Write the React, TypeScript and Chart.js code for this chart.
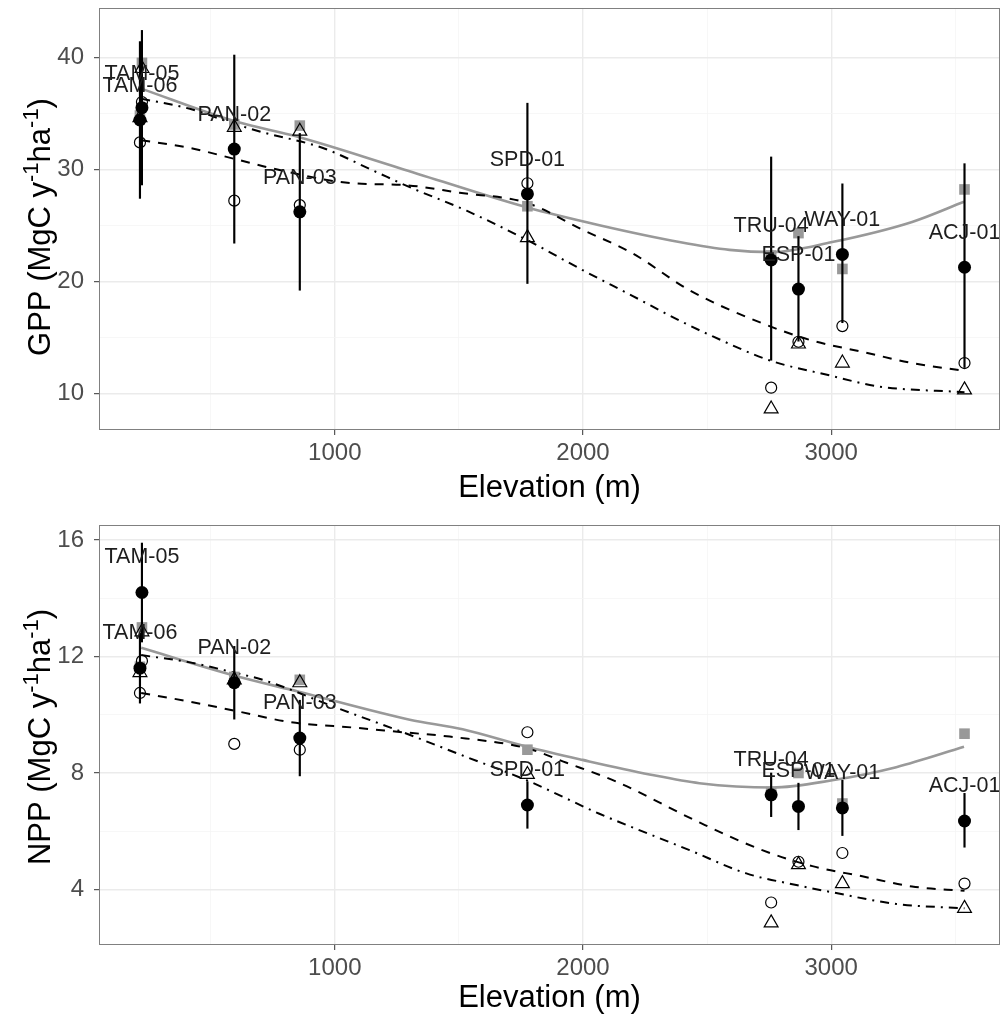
import React, { useEffect, useRef } from "react";
import { Chart, registerables } from "chart.js";

Chart.register(...registerables);

const FONT = "'Liberation Sans', Arial, Helvetica, sans-serif";

// ---------------- data ----------------
const sites = ["TAM-05", "TAM-06", "PAN-02", "PAN-03", "SPD-01", "TRU-04", "ESP-01", "WAY-01", "ACJ-01"];
const elevation = [223, 215, 595, 859, 1776, 2758, 2868, 3045, 3537];

// grid positions (major ones carry labels)
const elevationGrid = [500, 1000, 1500, 2000, 2500, 3000, 3500];
const elevationTickLabels = [1000, 2000, 3000];
const gppGrid = [10, 15, 20, 25, 30, 35, 40];
const gppTickLabels = [10, 20, 30, 40];
const nppGrid = [4, 6, 8, 10, 12, 14, 16];
const nppTickLabels = [4, 8, 12, 16];

// GPP panel
const gppObserved = [35.5, 34.4, 31.8, 26.2, 27.8, 21.9, 19.3, 22.4, 21.25];
const gppLower = [28.6, 27.4, 23.4, 19.2, 19.8, 12.95, 14.65, 16.3, 12.3];
const gppUpper = [42.4, 41.4, 40.2, 33.2, 35.9, 31.1, 24.0, 28.7, 30.5];
const gppSquare = [39.5, 34.8, 34.0, 33.9, 26.7, 22.3, 24.3, 21.1, 28.2];
const gppCircle = [36.0, 32.4, 27.2, 26.8, 28.75, 10.5, 14.6, 16.0, 12.7];
const gppTriangle = [39.0, 34.6, 33.75, 33.4, 23.9, 8.6, 14.4, 12.7, 10.3];

const gppSquareFitElev = [220, 594, 851, 1262, 1773, 2066, 2388, 2590, 2763, 3004, 3326, 3535];
const gppSquareFitVal = [37.2, 34.3, 32.9, 30.1, 26.6, 25.0, 23.5, 22.8, 22.6, 23.5, 25.3, 27.1];
const gppCircleFitElev = [220, 416, 618, 726, 1072, 1274, 1503, 1773, 1998, 2199, 2429, 2722, 2924, 3125, 3326, 3537];
const gppCircleFitVal = [32.6, 31.9, 30.8, 30.2, 28.75, 28.6, 27.9, 27.0, 24.6, 22.5, 19.2, 16.25, 14.7, 13.7, 12.7, 12.0];
const gppTriangleFitElev = [220, 416, 590, 710, 952, 1153, 1302, 1531, 1773, 1998, 2199, 2388, 2521, 2750, 2992, 3193, 3537];
const gppTriangleFitVal = [36.3, 35.4, 34.1, 33.3, 31.9, 29.9, 28.4, 26.3, 23.7, 21.0, 18.7, 16.5, 15.1, 12.95, 11.6, 10.6, 10.1];

// NPP panel
const nppObserved = [14.2, 11.6, 11.1, 9.2, 6.9, 7.25, 6.85, 6.8, 6.35];
const nppLower = [12.5, 10.4, 9.85, 7.9, 6.1, 6.5, 6.05, 5.85, 5.45];
const nppUpper = [15.9, 12.8, 12.35, 10.5, 7.7, 8.0, 7.65, 7.75, 7.3];
const nppSquare = [13.0, 11.65, 11.3, 11.2, 8.8, 7.35, 8.0, 6.95, 9.35];
const nppCircle = [11.85, 10.75, 9.0, 8.8, 9.4, 3.55, 4.95, 5.25, 4.2];
const nppTriangle = [12.85, 11.45, 11.2, 11.1, 7.95, 2.85, 4.85, 4.2, 3.35];

const nppSquareFitElev = [220, 594, 851, 1302, 1515, 1773, 1998, 2268, 2469, 2763, 3004, 3262, 3535];
const nppSquareFitVal = [12.3, 11.35, 10.8, 9.83, 9.5, 8.9, 8.45, 7.95, 7.65, 7.5, 7.75, 8.2, 8.9];
const nppCircleFitElev = [220, 416, 618, 819, 1089, 1274, 1463, 1773, 1934, 2135, 2469, 2722, 2924, 3125, 3326, 3537];
const nppCircleFitVal = [10.75, 10.45, 10.1, 9.75, 9.55, 9.4, 9.25, 8.85, 8.35, 7.7, 6.3, 5.35, 4.8, 4.45, 4.1, 3.95];
const nppTriangleFitElev = [220, 416, 594, 710, 1020, 1274, 1515, 1773, 2066, 2429, 2658, 2859, 3004, 3262, 3537];
const nppTriangleFitVal = [12.05, 11.8, 11.45, 11.2, 10.2, 9.4, 8.6, 7.75, 6.6, 5.35, 4.55, 4.15, 3.9, 3.5, 3.35];

// ---------------- chart construction ----------------
type PanelSpec = {
  yName: string;
  observed: number[];
  lower: number[];
  upper: number[];
  square: number[];
  circle: number[];
  triangle: number[];
  squareFit: [number[], number[]];
  circleFit: [number[], number[]];
  triangleFit: [number[], number[]];
  yMin: number;
  yMax: number;
  yGrid: number[];
  yLabels: number[];
  padTop: number;
  xAxisHeight: number;
  labelLift: number;
  canvasHeight: number;
};

const pts = (xs: number[], ys: number[]) => xs.map((x, i) => ({ x, y: ys[i] }));

const near = (v: number, list: number[]) => list.some((t) => Math.abs(t - v) < 1e-6);

function buildConfig(p: PanelSpec): any {
  const fitLine = (fit: [number[], number[]], extra: any) => ({
    type: "line",
    data: pts(fit[0], fit[1]),
    borderColor: "#000000",
    borderWidth: 2,
    pointRadius: 0,
    fill: false,
    cubicInterpolationMode: "monotone",
    ...extra,
  });

  const datasets: any[] = [
    fitLine(p.squareFit, { borderColor: "#999999", borderWidth: 2.6, order: 10 }),
    fitLine(p.circleFit, { borderDash: [9, 8], order: 9 }),
    fitLine(p.triangleFit, { borderDash: [9, 6, 2, 6], order: 8 }),
    {
      type: "scatter",
      data: pts(elevation, p.square),
      pointStyle: "rect",
      pointRadius: 7.5,
      backgroundColor: "#999999",
      borderWidth: 0,
      order: 7,
    },
    {
      type: "scatter",
      data: pts(elevation, p.circle),
      pointStyle: "circle",
      pointRadius: 5.5,
      backgroundColor: "rgba(0,0,0,0)",
      borderColor: "#000000",
      borderWidth: 1.2,
      order: 6,
    },
    {
      type: "scatter",
      data: pts(elevation, p.triangle),
      pointStyle: "triangle",
      pointRadius: 8,
      backgroundColor: "rgba(0,0,0,0)",
      borderColor: "#000000",
      borderWidth: 1.2,
      order: 5,
    },
    {
      type: "bar",
      data: elevation.map((e, i) => ({ x: e, y: [p.lower[i], p.upper[i]] })),
      backgroundColor: "#000000",
      borderWidth: 0,
      barThickness: 1.5,
      order: 4,
    },
    {
      type: "scatter",
      data: pts(elevation, p.observed),
      pointStyle: "circle",
      pointRadius: 6.5,
      backgroundColor: "#000000",
      borderWidth: 0,
      order: 3,
    },
  ];

  const decor = {
    id: "decor",
    afterDatasetsDraw(chart: any) {
      const { ctx, chartArea, scales } = chart;
      const xs = scales.x;
      const ys = scales.y;
      ctx.save();
      // site labels
      ctx.font = `21.5px ${FONT}`;
      ctx.fillStyle = "#1e1e1e";
      ctx.textAlign = "center";
      ctx.textBaseline = "middle";
      sites.forEach((s, i) => {
        ctx.fillText(s, xs.getPixelForValue(elevation[i]), ys.getPixelForValue(p.observed[i]) - p.labelLift);
      });
      // panel border
      ctx.strokeStyle = "#808080";
      ctx.lineWidth = 1;
      ctx.strokeRect(chartArea.left + 0.5, chartArea.top + 0.5, chartArea.right - chartArea.left - 1, chartArea.bottom - chartArea.top - 1);
      // x title
      ctx.fillStyle = "#000000";
      ctx.font = `31px ${FONT}`;
      ctx.textAlign = "center";
      ctx.textBaseline = "alphabetic";
      ctx.fillText("Elevation (m)", (chartArea.left + chartArea.right) / 2, 497);
      // y title with superscripts
      const parts: { t: string; sup: boolean }[] = [
        { t: `${p.yName} (MgC y`, sup: false },
        { t: "-1", sup: true },
        { t: "ha", sup: false },
        { t: "-1", sup: true },
        { t: ")", sup: false },
      ];
      const mainFont = `31px ${FONT}`;
      const supFont = `22px ${FONT}`;
      let total = 0;
      const widths = parts.map((pt) => {
        ctx.font = pt.sup ? supFont : mainFont;
        const w = ctx.measureText(pt.t).width;
        total += w;
        return w;
      });
      ctx.translate(38, 227);
      ctx.rotate(-Math.PI / 2);
      ctx.textAlign = "left";
      let x = -total / 2;
      parts.forEach((pt, i) => {
        ctx.font = pt.sup ? supFont : mainFont;
        ctx.fillText(pt.t, x, pt.sup ? 0 : 12);
        x += widths[i];
      });
      ctx.restore();
    },
  };

  const gridColor = (major: boolean) => (major ? "#ebebeb" : "#f5f5f5");
  const zeroPad = (s: any) => {
    s.paddingTop = 0;
    s.paddingBottom = 0;
    s.paddingLeft = 0;
    s.paddingRight = 0;
  };

  return {
    type: "scatter",
    data: { datasets },
    options: {
      responsive: false,
      animation: false,
      devicePixelRatio: 1,
      events: [],
      layout: { autoPadding: false, padding: { top: p.padTop, right: 2, left: 0, bottom: 0 } },
      plugins: {
        legend: { display: false },
        tooltip: { enabled: false },
        title: { display: false },
      },
      scales: {
        x: {
          type: "linear",
          position: "bottom",
          min: 50,
          max: 3680,
          offset: false,
          afterBuildTicks: (s: any) => {
            s.ticks = elevationGrid.map((v) => ({ value: v }));
          },
          afterFit: (s: any) => {
            s.height = p.xAxisHeight;
            zeroPad(s);
          },
          ticks: {
            autoSkip: false,
            maxRotation: 0,
            minRotation: 0,
            padding: 4,
            color: "#4d4d4d",
            font: { family: FONT, size: 24 },
            callback: (v: number) => (near(v, elevationTickLabels) ? String(v) : ""),
          },
          grid: {
            offset: false,
            color: (c: any) => gridColor(!!c.tick && near(c.tick.value, elevationTickLabels)),
            lineWidth: (c: any) => (c.tick && near(c.tick.value, elevationTickLabels) ? 1.4 : 0.8),
            tickColor: (c: any) => (c.tick && near(c.tick.value, elevationTickLabels) ? "#333333" : "rgba(0,0,0,0)"),
            tickLength: 5,
            tickWidth: 1,
          },
          border: { display: false },
        },
        y: {
          type: "linear",
          min: p.yMin,
          max: p.yMax,
          beginAtZero: false,
          afterBuildTicks: (s: any) => {
            s.ticks = p.yGrid.map((v) => ({ value: v }));
          },
          afterFit: (s: any) => {
            s.width = 99;
            zeroPad(s);
          },
          ticks: {
            autoSkip: false,
            padding: 10,
            color: "#4d4d4d",
            font: { family: FONT, size: 24 },
            callback: (v: number) => (near(v, p.yLabels) ? String(v) : ""),
          },
          grid: {
            color: (c: any) => gridColor(!!c.tick && near(c.tick.value, p.yLabels)),
            lineWidth: (c: any) => (c.tick && near(c.tick.value, p.yLabels) ? 1.4 : 0.8),
            tickColor: (c: any) => (c.tick && near(c.tick.value, p.yLabels) ? "#333333" : "rgba(0,0,0,0)"),
            tickLength: 5,
            tickWidth: 1,
          },
          border: { display: false },
        },
      },
    },
    plugins: [decor],
  };
}

const gppPanel: PanelSpec = {
  yName: "GPP",
  observed: gppObserved,
  lower: gppLower,
  upper: gppUpper,
  square: gppSquare,
  circle: gppCircle,
  triangle: gppTriangle,
  squareFit: [gppSquareFitElev, gppSquareFitVal],
  circleFit: [gppCircleFitElev, gppCircleFitVal],
  triangleFit: [gppTriangleFitElev, gppTriangleFitVal],
  yMin: 6.72,
  yMax: 44.4,
  yGrid: gppGrid,
  yLabels: gppTickLabels,
  padTop: 8,
  xAxisHeight: 80,
  labelLift: 34,
  canvasHeight: 510,
};

const nppPanel: PanelSpec = {
  yName: "NPP",
  observed: nppObserved,
  lower: nppLower,
  upper: nppUpper,
  square: nppSquare,
  circle: nppCircle,
  triangle: nppTriangle,
  squareFit: [nppSquareFitElev, nppSquareFitVal],
  circleFit: [nppCircleFitElev, nppCircleFitVal],
  triangleFit: [nppTriangleFitElev, nppTriangleFitVal],
  yMin: 2.09,
  yMax: 16.52,
  yGrid: nppGrid,
  yLabels: nppTickLabels,
  padTop: 15,
  xAxisHeight: 72,
  labelLift: 35,
  canvasHeight: 507,
};

function PanelChart({ panel, top }: { panel: PanelSpec; top: number }) {
  const ref = useRef<HTMLCanvasElement>(null);
  useEffect(() => {
    if (!ref.current) return;
    const chart = new Chart(ref.current, buildConfig(panel));
    return () => chart.destroy();
  }, [panel]);
  return (
    <canvas
      ref={ref}
      width={1002}
      height={panel.canvasHeight}
      style={{ position: "absolute", left: 0, top, width: 1002, height: panel.canvasHeight, display: "block" }}
    />
  );
}

export default function App() {
  return (
    <div style={{ position: "absolute", left: 0, top: 0, width: 1002, height: 1017, background: "#ffffff" }}>
      <PanelChart panel={gppPanel} top={0} />
      <PanelChart panel={nppPanel} top={510} />
    </div>
  );
}
